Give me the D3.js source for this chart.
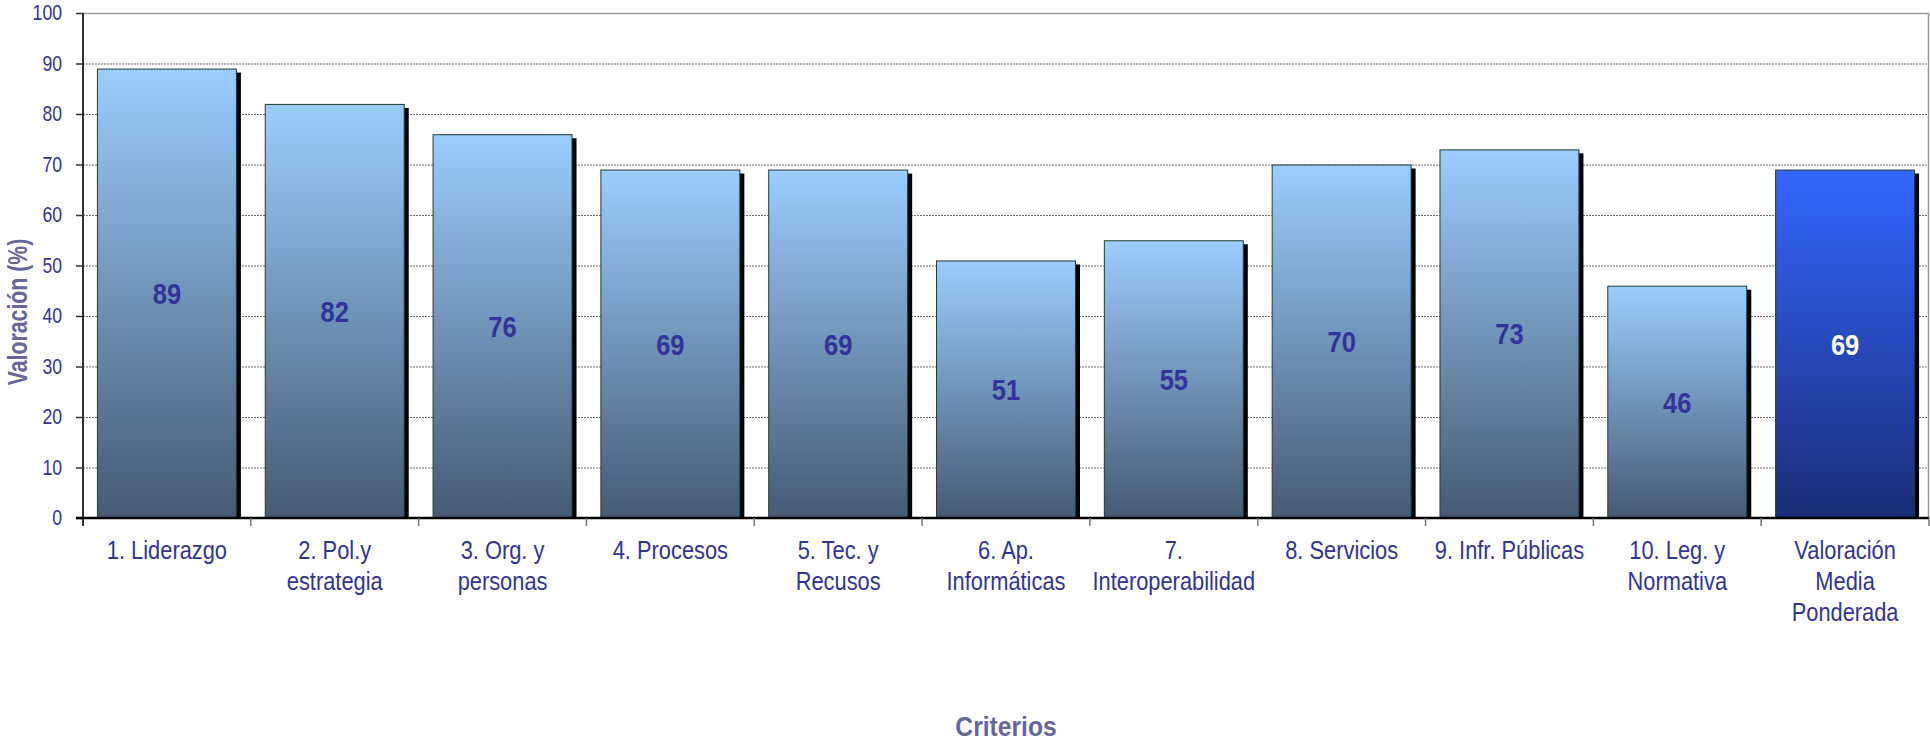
<!DOCTYPE html>
<html>
<head>
<meta charset="utf-8">
<script src="https://cdn.jsdelivr.net/npm/d3@7"></script>
<style>
  html, body { margin: 0; padding: 0; background: #fff; }
  svg { display: block; }
  text { font-family: "Liberation Sans", Arial, sans-serif; }
</style>
</head>
<body>
<svg id="chart" width="1930" height="742"></svg>
<script>
// Criteria (each entry holds the label lines under the axis)
const categories = [
  ["1. Liderazgo"],
  ["2. Pol.y", "estrategia"],
  ["3. Org. y", "personas"],
  ["4. Procesos"],
  ["5. Tec. y", "Recusos"],
  ["6. Ap.", "Informáticas"],
  ["7.", "Interoperabilidad"],
  ["8. Servicios"],
  ["9. Infr. Públicas"],
  ["10. Leg. y", "Normativa"],
  ["Valoración", "Media", "Ponderada"]
];
// Score per criterion (%), the last one is the weighted average
const values = [89, 82, 76, 69, 69, 51, 55, 70, 73, 46, 69];
const yTicks = [0, 10, 20, 30, 40, 50, 60, 70, 80, 90, 100];
const yTitle = "Valoración (%)";
const xTitle = "Criterios";

const svg = d3.select("#chart");
const plotL = 83, plotR = 1929, plotT = 13, plotB = 518;
const labelColor = "#333399";
const titleColor = "#666699";

// Condensed text: anchor at (x, y), squeeze horizontally by s
function narrowText(parent, x, y, s, extra) {
  return parent.append("text")
    .attr("transform", `translate(${x},${y})${extra || ""} scale(${s},1)`);
}

const x = d3.scaleBand()
  .domain(d3.range(categories.length))
  .range([plotL, plotR])
  .paddingInner(0.166)
  .paddingOuter(0.083);
const y = d3.scaleLinear().domain([0, 100]).range([plotB, plotT]);

// Gradients for the bars
const defs = svg.append("defs");
function grad(id, c1, c2) {
  const g = defs.append("linearGradient").attr("id", id)
    .attr("x1", 0).attr("y1", 0).attr("x2", 0).attr("y2", 1);
  g.append("stop").attr("offset", "0%").attr("stop-color", c1);
  g.append("stop").attr("offset", "100%").attr("stop-color", c2);
}
grad("gBar", "#9bcdfd", "#465a74");
grad("gAvg", "#3366ff", "#1a2d76");

// Horizontal grid lines
svg.append("g").selectAll("line")
  .data(yTicks.filter(t => t > 0 && t < 100))
  .join("line")
  .attr("x1", plotL).attr("x2", plotR)
  .attr("y1", d => y(d) + 0.5).attr("y2", d => y(d) + 0.5)
  .attr("stroke", "#6a6a6a")
  .attr("stroke-width", 1)
  .attr("stroke-dasharray", "2,1");

// Plot frame: top and right edges
svg.append("line").attr("x1", plotL).attr("x2", plotR)
  .attr("y1", y(100) + 0.5).attr("y2", y(100) + 0.5)
  .attr("stroke", "#9a9a9a").attr("stroke-width", 1.5);
svg.append("line").attr("x1", plotR - 0.5).attr("x2", plotR - 0.5)
  .attr("y1", y(100)).attr("y2", plotB)
  .attr("stroke", "#9a9a9a").attr("stroke-width", 1.5);

const n = values.length;
const bw = x.bandwidth();
const step = x.step();

// Bar shadows
svg.append("g").selectAll("rect")
  .data(values)
  .join("rect")
  .attr("x", (d, i) => x(i) + 4)
  .attr("y", d => y(d) + 4)
  .attr("width", bw)
  .attr("height", d => plotB - y(d) - 4)
  .attr("fill", "#000");

// Bars
svg.append("g").selectAll("rect")
  .data(values)
  .join("rect")
  .attr("x", (d, i) => x(i) + 0.5)
  .attr("y", d => y(d) + 0.5)
  .attr("width", bw - 1)
  .attr("height", d => plotB - y(d) - 0.5)
  .attr("fill", (d, i) => i === n - 1 ? "url(#gAvg)" : "url(#gBar)")
  .attr("stroke", "#1e3d36")
  .attr("stroke-width", 1);

// Value labels in the middle of each bar
const valG = svg.append("g");
values.forEach((d, i) => {
  narrowText(valG, x(i) + bw / 2, (y(d) + plotB) / 2, 0.85)
    .attr("dy", "0.36em")
    .attr("text-anchor", "middle")
    .attr("font-size", 30)
    .attr("font-weight", "bold")
    .attr("fill", i === n - 1 ? "#ffffff" : labelColor)
    .text(d);
});

// Y axis
const yAxis = svg.append("g")
  .attr("transform", `translate(${plotL},0)`)
  .call(d3.axisLeft(y).tickValues(yTicks).tickSize(7).tickPadding(14));
yAxis.select(".domain").remove();
yAxis.attr("font-family", null).attr("font-size", null);
yAxis.selectAll(".tick line").attr("stroke", "#333").attr("stroke-width", 1.5);
yAxis.selectAll(".tick text")
  .attr("x", 0)
  .attr("transform", "translate(-21,0) scale(0.82,1)")
  .attr("font-size", 21.5)
  .attr("fill", labelColor);
svg.append("line").attr("x1", plotL).attr("x2", plotL)
  .attr("y1", plotT).attr("y2", plotB + 8)
  .attr("stroke", "#333").attr("stroke-width", 2);

// X axis line and category separators
svg.append("line").attr("x1", plotL - 7).attr("x2", plotR)
  .attr("y1", plotB).attr("y2", plotB)
  .attr("stroke", "#000").attr("stroke-width", 2.5);
svg.append("g").selectAll("line")
  .data(d3.range(1, n + 1))
  .join("line")
  .attr("x1", i => x(i - 1) + bw + step * x.paddingInner() / 2)
  .attr("x2", i => x(i - 1) + bw + step * x.paddingInner() / 2)
  .attr("y1", plotB).attr("y2", plotB + 8)
  .attr("stroke", "#777").attr("stroke-width", 1.5);

// Category labels
const catG = svg.append("g");
categories.forEach((lines, i) => {
  const t = narrowText(catG, x(i) + bw / 2, 559, 0.84)
    .attr("text-anchor", "middle")
    .attr("font-size", 26)
    .attr("fill", labelColor);
  lines.forEach((ln, k) => {
    t.append("tspan").attr("x", 0).attr("dy", k === 0 ? 0 : 31).text(ln);
  });
});

// Axis titles
narrowText(svg, 27, 312, 0.76, " rotate(-90)")
  .attr("text-anchor", "middle")
  .attr("font-size", 28)
  .attr("font-weight", "bold")
  .attr("fill", titleColor)
  .text(yTitle);
narrowText(svg, (plotL + plotR) / 2, 736, 0.88)
  .attr("text-anchor", "middle")
  .attr("font-size", 28)
  .attr("font-weight", "bold")
  .attr("fill", titleColor)
  .text(xTitle);
</script>
</body>
</html>
